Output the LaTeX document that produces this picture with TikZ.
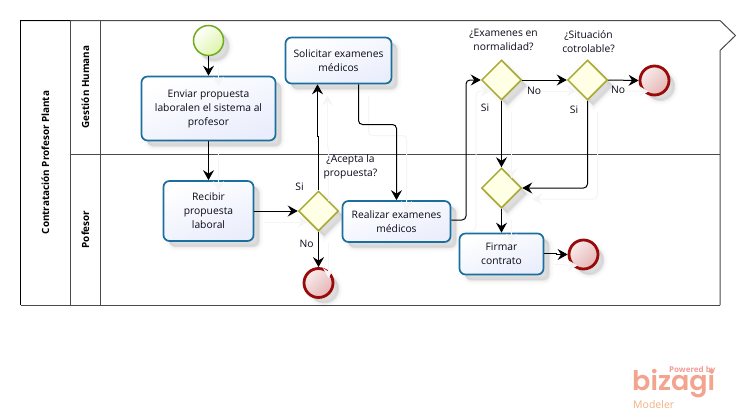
\documentclass[tikz,border=0pt]{standalone}
\usepackage{fontspec}
\setmainfont{Open Sans}
\usetikzlibrary{arrows.meta,shapes.geometric,shadows}
\definecolor{txt}{HTML}{0C0818}
\definecolor{lane}{HTML}{4A4A4A}
\definecolor{taskb}{HTML}{1B6F9E}
\definecolor{taskf}{HTML}{EAEEFC}
\definecolor{gateb}{HTML}{A8A832}
\definecolor{gatef}{HTML}{FFFFE6}
\definecolor{startb}{HTML}{6FAB1E}
\definecolor{startf}{HTML}{DDF4A8}
\definecolor{endb}{HTML}{990A0A}
\definecolor{enda}{HTML}{F8ECEC}
\definecolor{endf}{HTML}{E6B4B4}
\definecolor{logoa}{HTML}{F4B183}
\definecolor{logob}{HTML}{F29C97}
\tikzset{
  softshadow/.style={
    general shadow={shadow xshift=6pt,shadow yshift=-6pt,fill=black,fill opacity=.03,draw=black,draw opacity=.02,line width=7pt},
    general shadow={shadow xshift=6pt,shadow yshift=-6pt,fill=black,fill opacity=.05,draw=black,draw opacity=.03,line width=3pt},
    general shadow={shadow xshift=5pt,shadow yshift=-5pt,fill=black,fill opacity=.05}},
  taskbox/.style={softshadow,draw=taskb,line width=1.7pt,rounded corners=6pt,shading=axis,left color=white,right color=taskf,shading angle=20,
    align=center,inner sep=0pt,text=txt,font=\fontsize{10.3}{14}\selectfont},
  gate/.style={softshadow,diamond,draw=gateb,line width=1.5pt,fill=gatef,minimum width=40pt,minimum height=40pt,inner sep=0pt},
  startev/.style={softshadow,circle,draw=startb,line width=1.5pt,shading=axis,left color=white,right color=startf,shading angle=45,minimum size=30pt,inner sep=0pt},
  endev/.style={softshadow,circle,draw=endb,line width=2.8pt,shading=axis,left color=enda,right color=endf,shading angle=45,minimum size=29pt,inner sep=0pt},
  lbl/.style={text=txt,align=center,inner sep=0pt,font=\fontsize{10.3}{14}\selectfont},
  lanetitle/.style={rotate=90,text=black,inner sep=0pt,font=\fontsize{9.9}{12}\selectfont\bfseries},
  conn/.style={draw=black,line width=1pt,rounded corners=4pt,-{Stealth[length=10pt,width=11pt,inset=3.5pt]},
    preaction={draw=black!4,line width=1pt,transform canvas={shift={(10pt,-11pt)}}}},
  laneline/.style={draw=lane,line width=1pt}
}
\begin{document}
\begin{tikzpicture}[x=1pt,y=-1pt]
\useasboundingbox (0,0) rectangle (740,418);
\fill[white] (0,0) rectangle (740,418);
% pool
\draw[laneline] (20.5,20.5) -- (720,20.5) -- (735.5,35.5) -- (720,50.5) -- (720,305);
\draw[laneline] (720,305) -- (20.5,305);
\draw[draw=black,line width=1pt] (20.5,305) -- (20.5,20.5) -- (70,20.5);
\draw[laneline] (70.5,20.5) -- (70.5,305);
\draw[laneline] (100.5,20.5) -- (100.5,305);
\draw[laneline] (70.5,154.5) -- (720,154.5);
\node[lanetitle] (pool) at (45.5,162.5) {Contratación Profesor Planta};
\node[lanetitle] (gh) at (85.5,87) {Gestión Humana};
\node[lanetitle] (pf) at (85.5,229.5) {Pofesor};
% nodes
\node[startev] (start) at (208.5,40.5) {};
\node[taskbox,minimum width=134pt,minimum height=64pt] (enviar) at (208.5,108.5) {Enviar propuesta\\laboralen el sistema al\\profesor};
\node[taskbox,minimum width=106pt,minimum height=46pt] (solic) at (338.5,60.5) {Solicitar examenes\\médicos};
\node[taskbox,minimum width=90pt,minimum height=60pt] (recibir) at (208.5,211) {Recibir\\propuesta\\laboral};
\node[gate] (g1) at (318.5,211) {};
\node[endev] (e1) at (318.5,283) {};
\node[taskbox,minimum width=108pt,minimum height=41pt] (real) at (396.5,221.5) {Realizar examenes\\médicos};
\node[gate] (g2) at (501.5,80) {};
\node[gate] (g3) at (587.5,80) {};
\node[endev] (e2) at (654.5,80.5) {};
\node[gate] (g4) at (501.5,188) {};
\node[taskbox,minimum width=84pt,minimum height=41pt] (firmar) at (501.5,254) {Firmar\\contrato};
\node[endev] (e3) at (583.5,254.5) {};
% connectors
\draw[conn] (start.south) -- (enviar.north);
\draw[conn] (enviar.south) -- (recibir.north);
\draw[conn] (recibir.east) -- (g1.west);
\draw[conn,rounded corners=0pt] (g1.north) -- (318.5,136) -- (317.5,136) -- (solic.south -| 317.5,0);
\draw[conn] (g1.south) -- (e1.north);
\draw[conn] (358.5,0 |- solic.south) -- (358.5,124.5) -- (396.5,124.5) -- (real.north);
\draw[conn] (real.east |- 0,220) -- (466,220) -- (466,80) -- (g2.west);
\draw[conn] (g2.east) -- (g3.west);
\draw[conn] (g3.east) -- (e2.west);
\draw[conn] (g2.south) -- (g4.north);
\draw[conn] (g3.south) -- (587.5,188) -- (g4.east);
\draw[conn] (g4.south) -- (firmar.north);
\draw[conn,rounded corners=0pt] (firmar.east |- 0,253) -- (556,253) -- (556,254.5) -- (e3.west);
% labels
\node[lbl] (l1) at (350.5,167) {¿Acepta la\\propuesta?};
\node[lbl] (l2) at (503.5,40) {¿Examenes en\\normalidad?};
\node[lbl] (l3) at (588.5,42) {¿Situación\\cotrolable?};
\node[lbl] (s1) at (299.5,187) {Si};
\node[lbl] (n1) at (306.5,244) {No};
\node[lbl] (s2) at (485,108) {Si};
\node[lbl] (n2) at (534,91) {No};
\node[lbl] (s3) at (574,110) {Si};
\node[lbl] (n3) at (618,90) {No};
% logo
\node[anchor=base east,inner sep=0pt,text=logob,font=\fontsize{8}{9}\selectfont\bfseries] (pw) at (715.5,372) {Powered by};
\node[anchor=base west,inner sep=0pt,text=logob!60!logoa,font=\fontspec{Poppins SemiBold}\fontsize{27}{27}\selectfont] (bz) at (632,390.5) {\smash{bizagi}};
\node[anchor=base west,inner sep=0pt,text=logoa,font=\fontsize{10.5}{11}\selectfont] (md) at (633,408) {Modeler};
\end{tikzpicture}
\end{document}
